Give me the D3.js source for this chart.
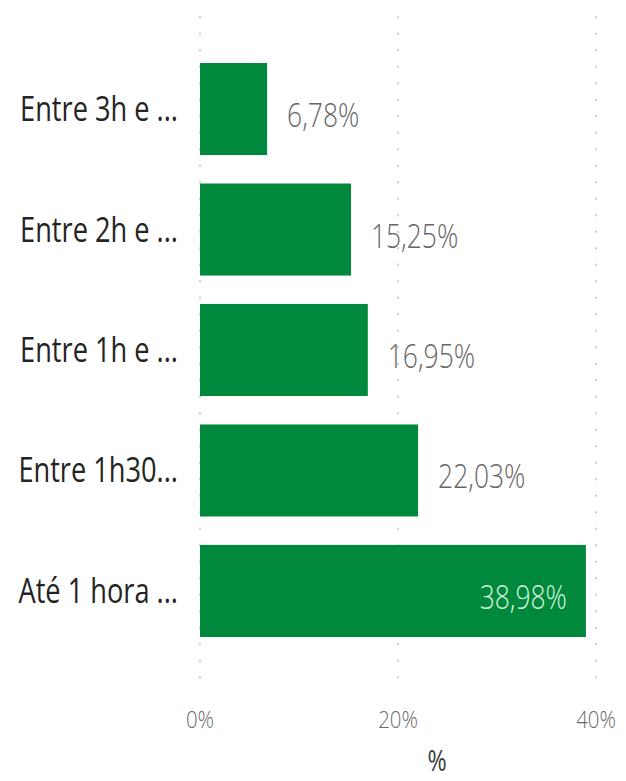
<!DOCTYPE html>
<html>
<head>
<meta charset="utf-8">
<script src="https://cdn.jsdelivr.net/npm/d3@7"></script>
<style>
  html, body { margin: 0; padding: 0; background: #fff; }
  svg { display: block; font-family: "Open Sans", "Noto Sans", sans-serif; }
</style>
</head>
<body>
<svg id="chart" width="626" height="781"></svg>
<script>
'use strict'

// categories, top to bottom
const categories = ['Entre 3h e ...', 'Entre 2h e ...', 'Entre 1h e ...', 'Entre 1h30...', 'Até 1 hora ...']
// share of answers, in %
const values = [6.78, 15.25, 16.95, 22.03, 38.98]
const valueLabels = ['6,78%', '15,25%', '16,95%', '22,03%', '38,98%']
const xTicks = [0, 20, 40]
const xTickLabels = ['0%', '20%', '40%']
const axisTitle = '%'

const GREEN = '#00893c'
const TEXT_SX = 0.8 // the source picture is squeezed horizontally

const svg = d3.select('#chart')

const x = d3.scaleLinear().domain([0, 40]).range([200, 596])
const y = d3.scaleBand()
  .domain(categories)
  .range([48.8, 651.2])
  .paddingInner(0.236)
  .paddingOuter(0.118)

// dotted gridlines
svg.append('g')
  .attr('class', 'grid')
  .selectAll('line')
  .data(xTicks)
  .enter().append('line')
  .attr('x1', d => x(d))
  .attr('x2', d => x(d))
  .attr('y1', 17)
  .attr('y2', 690)
  .attr('stroke', '#cccccc')
  .attr('stroke-width', 2)
  .attr('stroke-linecap', 'round')
  .attr('stroke-dasharray', '0.5 16')

// bars
const rows = categories.map((c, i) => ({ cat: c, value: values[i], label: valueLabels[i] }))

svg.append('g')
  .attr('class', 'bars')
  .selectAll('rect')
  .data(rows)
  .enter().append('rect')
  .attr('x', x(0))
  .attr('y', d => y(d.cat))
  .attr('width', d => x(d.value) - x(0))
  .attr('height', y.bandwidth())
  .attr('fill', GREEN)

// category labels
svg.append('g')
  .attr('class', 'cats')
  .selectAll('text')
  .data(rows)
  .enter().append('text')
  .attr('transform', d => `translate(178, ${y(d.cat) + y.bandwidth() / 2 + 12}) scale(${TEXT_SX}, 1)`)
  .attr('text-anchor', 'end')
  .attr('font-size', 34)
  .attr('fill', '#252423')
  .text(d => d.cat)

// value labels, inside the bar when it is long enough
svg.append('g')
  .attr('class', 'values')
  .selectAll('text')
  .data(rows)
  .enter().append('text')
  .attr('transform', d => {
    const inside = d.value > 30
    const tx = inside ? x(d.value) - 19 : x(d.value) + 20
    return `translate(${tx}, ${y(d.cat) + y.bandwidth() / 2 + 18}) scale(${TEXT_SX}, 1)`
  })
  .attr('text-anchor', d => d.value > 30 ? 'end' : 'start')
  .attr('font-size', 33)
  .attr('font-weight', 300)
  .attr('fill', d => d.value > 30 ? '#d2f5dc' : '#666666')
  .text(d => d.label)

// x tick labels
svg.append('g')
  .attr('class', 'ticks')
  .selectAll('text')
  .data(xTicks)
  .enter().append('text')
  .attr('transform', (d) => `translate(${x(d)}, 728) scale(0.85, 1)`)
  .attr('text-anchor', 'middle')
  .attr('font-size', 24)
  .attr('font-weight', 300)
  .attr('fill', '#6a6a6a')
  .text((d, i) => xTickLabels[i])

// axis title
svg.append('text')
  .attr('transform', 'translate(437, 771) scale(0.8, 1)')
  .attr('text-anchor', 'middle')
  .attr('font-size', 29)
  .attr('fill', '#3a3a3a')
  .text(axisTitle)
</script>
</body>
</html>
